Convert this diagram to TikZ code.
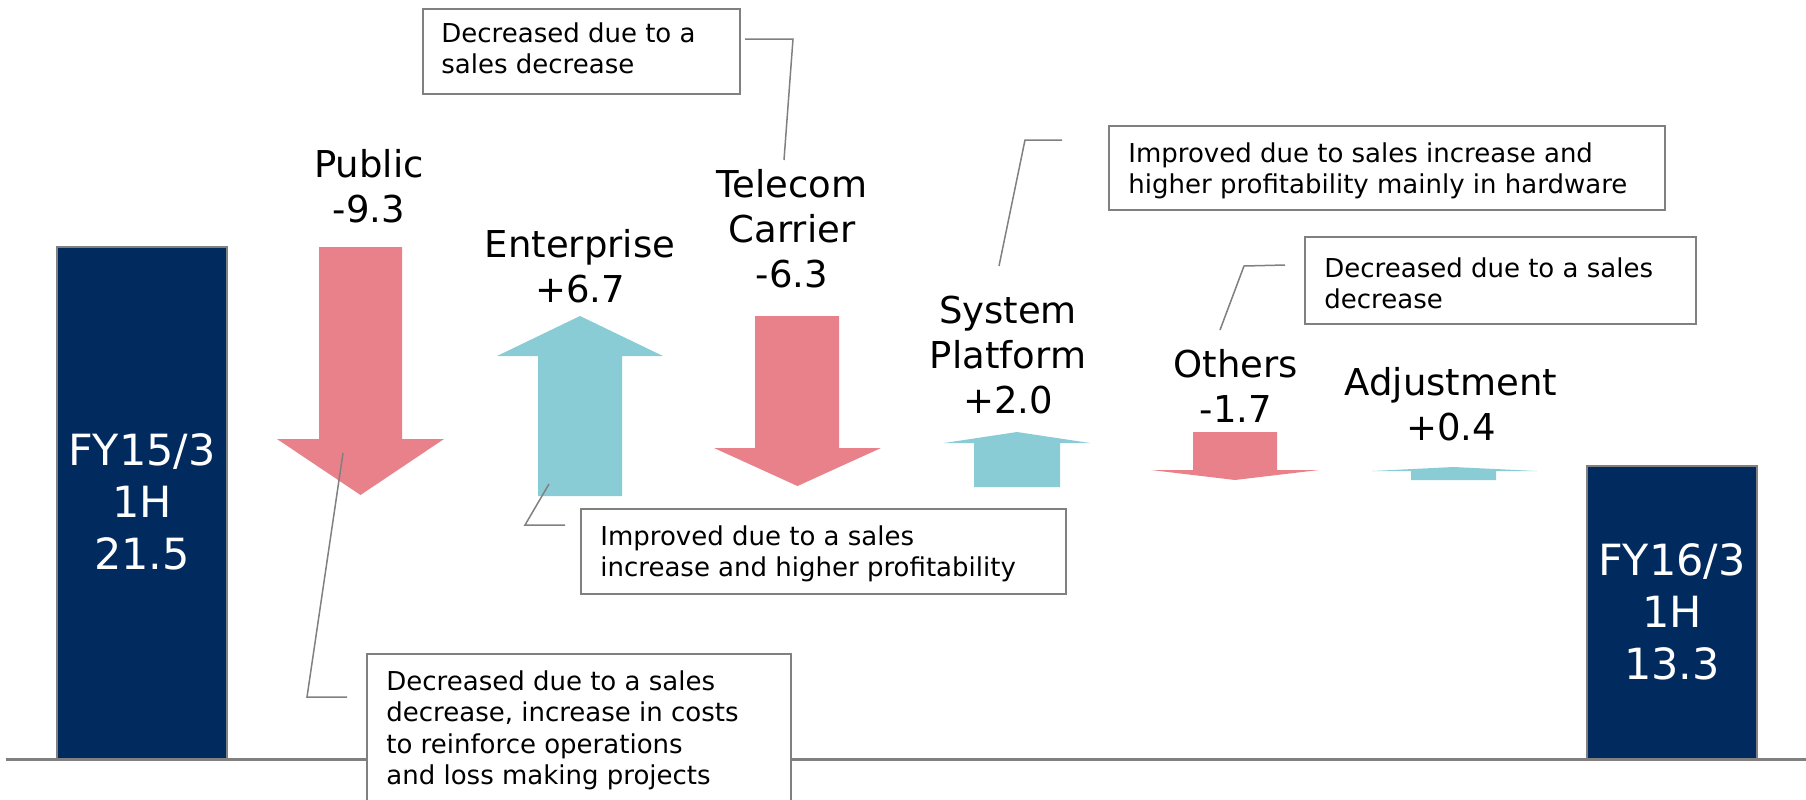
\documentclass[tikz,border=0pt]{standalone}
\usepackage{fontspec}
\setmainfont{DejaVu Sans}
\definecolor{navyc}{RGB}{1,42,94}
\definecolor{redc}{RGB}{232,129,137}
\definecolor{tealc}{RGB}{137,204,213}
\definecolor{grayc}{RGB}{128,128,128}
\begin{document}
\begin{tikzpicture}[x=0.5pt,y=-0.5pt,
  lab/.style={font=\fontsize{18.5}{22.5}\selectfont, align=center, anchor=north, inner sep=0pt},
  bartxt/.style={font=\fontsize{21.5}{26}\selectfont, text=white, align=center, anchor=north, inner sep=0pt},
  note/.style={font=\fontsize{13}{15.75}\selectfont, align=left, anchor=north west, inner sep=0pt},
  notebox/.style={draw=grayc, line width=1pt, fill=white, anchor=north west, inner sep=0pt},
  leader/.style={draw=grayc, line width=0.75pt},
  barbox/.style={draw=grayc, line width=1.3pt, fill=navyc},
  uparrow/.style={fill=tealc},
  downarrow/.style={fill=redc}]
\useasboundingbox (0,0) rectangle (1806,799);

% baseline
\coordinate (bl0) at (6,759);
\coordinate (bl1) at (1806,759);
\draw[grayc, line width=1.5pt] (bl0) -- (bl1);

% start and end bars
\path[barbox] (57,247) rectangle (227,759);
\path[barbox] (1587,466) rectangle (1757,759);
\node[bartxt] (fy15) at (142,430.6) {\rule{0pt}{0.8em}FY15/3\\1H\\21.5};
\node[bartxt] (fy16) at (1672,540.6) {\rule{0pt}{0.8em}FY16/3\\1H\\13.3};

% arrows
\path[downarrow] (319,247) -- (402,247) -- (402,439) -- (444,439) -- (360.5,495) -- (277,439) -- (319,439) -- cycle;
\path[uparrow] (538,496) -- (622,496) -- (622,356) -- (663,356) -- (580,316) -- (497,356) -- (538,356) -- cycle;
\path[downarrow] (755,316) -- (839,316) -- (839,448) -- (881,448) -- (797.5,486) -- (714,448) -- (755,448) -- cycle;
\path[uparrow] (974,487) -- (1060,487) -- (1060,443) -- (1090,443) -- (1017,432) -- (944,443) -- (974,443) -- cycle;
\path[downarrow] (1193,432) -- (1277,432) -- (1277,470) -- (1319,470) -- (1235,480) -- (1151,470) -- (1193,470) -- cycle;
\path[uparrow] (1411,480) -- (1496,480) -- (1496,471) -- (1537,471) -- (1453.5,467) -- (1372,471) -- (1411,471) -- cycle;

% labels
\node[lab] (lpub) at (369,147.4) {\rule{0pt}{0.8em}Public\\-9.3};
\node[lab] (lent) at (580,227.4) {\rule{0pt}{0.8em}Enterprise\\+6.7};
\node[lab] (ltel) at (792,167.4) {\rule{0pt}{0.8em}Telecom\\Carrier\\-6.3};
\node[lab] (lsys) at (1008,293.4) {\rule{0pt}{0.8em}System\\Platform\\+2.0};
\node[lab] (loth) at (1236,347.4) {\rule{0pt}{0.8em}Others\\-1.7};
\node[lab] (ladj) at (1451,365.4) {\rule{0pt}{0.8em}Adjustment\\+0.4};

% leader lines
\coordinate (a1) at (745,39);  \coordinate (a2) at (793,39);  \coordinate (a3) at (784,160);
\coordinate (b1) at (1062,140); \coordinate (b2) at (1025,140); \coordinate (b3) at (999,266);
\coordinate (c1) at (1285,265); \coordinate (c2) at (1244,266); \coordinate (c3) at (1220,330);
\coordinate (d1) at (565,525);  \coordinate (d2) at (525,525);  \coordinate (d3) at (549,484);
\coordinate (e1) at (347,697);  \coordinate (e2) at (307,697);  \coordinate (e3) at (343,453);
\draw[leader] (a1) -- (a2) -- (a3);
\draw[leader] (b1) -- (b2) -- (b3);
\draw[leader] (c1) -- (c2) -- (c3);
\draw[leader] (d1) -- (d2) -- (d3);
\draw[leader] (e1) -- (e2) -- (e3);

% callout boxes
\node[notebox, minimum width=158.5pt, minimum height=42.5pt] (box1) at (422,8) {};
\node[notebox, minimum width=278pt, minimum height=42pt] (box2) at (1108,125) {};
\node[notebox, minimum width=195.5pt, minimum height=43.5pt] (box3) at (1304,236) {};
\node[notebox, minimum width=242.5pt, minimum height=42.5pt] (box4) at (580,508) {};
\node[notebox, minimum width=212pt, minimum height=100pt] (box5) at (366,653) {};

\node[note] (t1) at (441,21.2) {\rule{0pt}{0.8em}Decreased due to a\\sales decrease};
\node[note] (t2) at (1128,141.2) {\rule{0pt}{0.8em}Improved due to sales increase and\\higher profitability mainly in hardware};
\node[note] (t3) at (1324,256.2) {\rule{0pt}{0.8em}Decreased due to a sales\\decrease};
\node[note] (t4) at (600,524.2) {\rule{0pt}{0.8em}Improved due to a sales\\increase and higher profitability};
\node[note] (t5) at (386,669.2) {\rule{0pt}{0.8em}Decreased due to a sales\\decrease, increase in costs\\to reinforce operations\\and loss making projects};
\end{tikzpicture}
\end{document}
